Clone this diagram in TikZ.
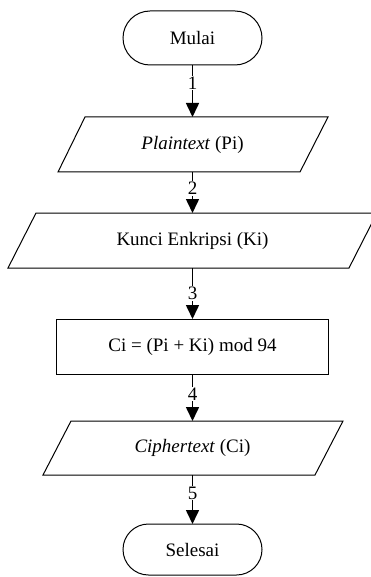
\documentclass[tikz,border=0pt]{standalone}
\usepackage{fontspec}
\setmainfont{Liberation Serif}
\usetikzlibrary{arrows.meta}
\begin{document}
\begin{tikzpicture}[x=1pt,y=-1pt,
  font=\fontsize{19}{22}\selectfont,
  shapeline/.style={draw=black,line width=1pt},
  holder/.style={inner sep=0pt,outer sep=0pt},
  flow/.style={line width=1.6pt,-{Triangle[length=14pt,width=13pt]}},
  lbl/.style={fill=white,inner sep=1pt}]
\useasboundingbox (0,0) rectangle (370,577);
% Mulai
\node[shapeline, rounded corners=27pt, minimum width=139pt, minimum height=54pt, outer sep=0pt] (mulai) at (192.5,38) {Mulai};
% Plaintext
\draw[shapeline] (85,117) -- (328,117) -- (300,172) -- (58,172) -- cycle;
\node[holder, minimum width=243pt, minimum height=55pt] (pt) at (192.5,144.5) {\textit{Plaintext} (Pi)};
% Kunci
\draw[shapeline] (36,213) -- (377,213) -- (349,268) -- (8,268) -- cycle;
\node[holder, minimum width=313pt, minimum height=55pt] (kunci) at (192.5,240.5) {Kunci Enkripsi (Ki)};
% Ci
\node[shapeline, minimum width=272pt, minimum height=55pt, outer sep=0pt] (ci) at (192.5,346.5) {Ci = (Pi + Ki) mod 94};
% Ciphertext
\draw[shapeline] (71,421) -- (343,421) -- (315,475) -- (43,475) -- cycle;
\node[holder, minimum width=244pt, minimum height=54pt] (ct) at (192.5,448) {\textit{Ciphertext} (Ci)};
% Selesai
\node[shapeline, rounded corners=25.5pt, minimum width=139pt, minimum height=51pt, outer sep=0pt] (selesai) at (192.5,549.5) {Selesai};
% arrows
\draw[flow] (mulai.south) -- node[lbl, pos=0.35] {1} (pt.north);
\draw[flow] (pt.south) -- node[lbl, pos=0.4] {2} (kunci.north);
\draw[flow] (kunci.south) -- node[lbl, pos=0.5] {3} (ci.north);
\draw[flow] (ci.south) -- node[lbl, pos=0.43] {4} (ct.north);
\draw[flow] (ct.south) -- node[lbl, pos=0.37] {5} (selesai.north);
\end{tikzpicture}
\end{document}
